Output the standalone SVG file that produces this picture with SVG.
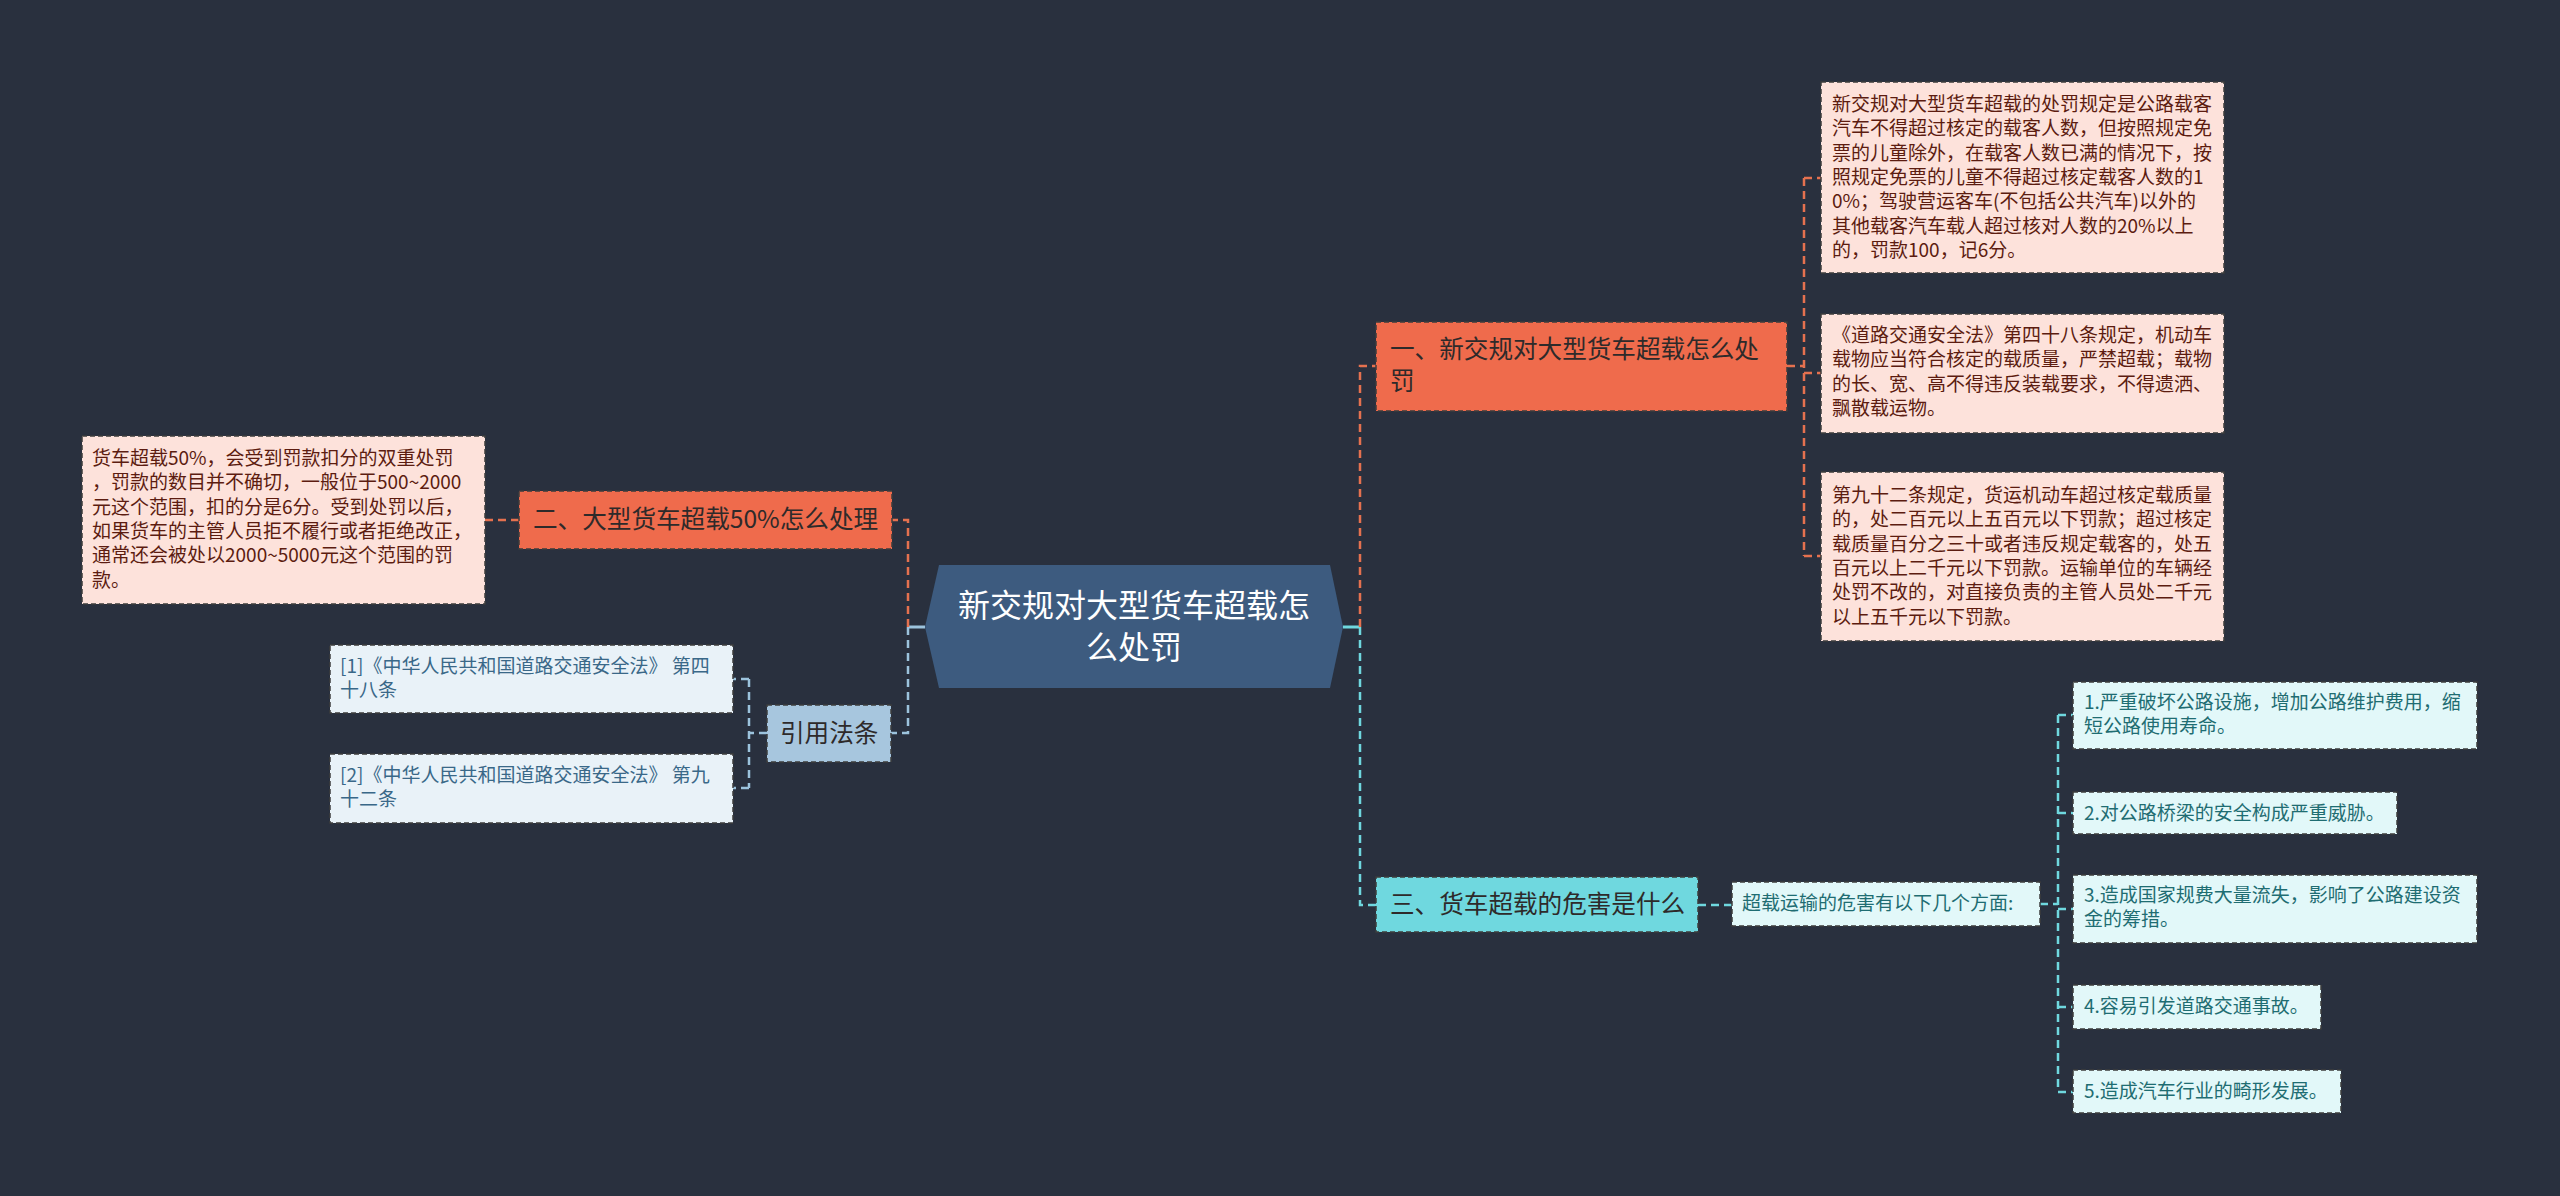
<svg xmlns="http://www.w3.org/2000/svg" width="2560" height="1196" viewBox="0 0 2560 1196">
<defs>
<style>
text{font-family:"Noto Sans CJK SC","Noto Sans",sans-serif;}
.box{stroke:#3c3c3c;stroke-width:1.5;stroke-dasharray:5 3;}
.orange{fill:#ef6b4c;}
.pink{fill:#fde2db;}
.cyan{fill:#6fd8df;}
.lcyan{fill:#e2f8f9;}
.lblue{fill:#e9f2f8;}
.steel{fill:#a7c6de;}
.t24{font-size:24.6px;fill:#2e2a2a;}
.tp{font-size:19px;fill:#5c1c10;}
.tc{font-size:19px;fill:#1f6d72;}
.tb{font-size:19px;fill:#3a6888;}
.co{fill:none;stroke:#e5714f;stroke-width:2.5;stroke-dasharray:8 5;}
.cc{fill:none;stroke:#6fd8df;stroke-width:2.5;stroke-dasharray:8 5;}
.cb{fill:none;stroke:#9cc3dd;stroke-width:2.5;stroke-dasharray:8 5;}
</style>
</defs>
<rect x="0" y="0" width="2560" height="1196" fill="#29303e"/>

<g id="connectors">
  <line x1="1343" y1="627" x2="1360" y2="627" stroke="#6fd8df" stroke-width="3"/>
  <line x1="908" y1="627" x2="925" y2="627" stroke="#9cc3dd" stroke-width="3"/>
  <path class="co" d="M1360 627 V366 H1376"/>
  <path class="cc" d="M1360 627 V905 H1376"/>
  <path class="co" d="M1787 366 H1804"/>
  <path class="co" d="M1804 178 V556"/>
  <path class="co" d="M1804 178 H1821 M1804 373 H1821 M1804 556 H1821"/>
  <path class="cc" d="M1698 905 H1732"/>
  <path class="cc" d="M2040 904 H2058"/>
  <path class="cc" d="M2058 715 V1092"/>
  <path class="cc" d="M2058 715 H2073 M2058 813 H2073 M2058 909 H2073 M2058 1007 H2073 M2058 1092 H2073"/>
  <path class="co" d="M908 627 V520 H892"/>
  <path class="cb" d="M908 627 V733 H891"/>
  <path class="co" d="M519 520 H485"/>
  <path class="cb" d="M767 733 H749"/>
  <path class="cb" d="M749 679 V788"/>
  <path class="cb" d="M749 679 H733 M749 788 H733"/>
</g>

<g id="center">
  <polygon points="925,627 939,565 1330,565 1343,627 1330,688 939,688" fill="#3d5b7f"/>
  <text x="1134" y="617" font-size="32" fill="#ffffff" text-anchor="middle">新交规对大型货车超载怎</text>
  <text x="1134" y="659" font-size="32" fill="#ffffff" text-anchor="middle">么处罚</text>
</g>

<g id="node1">
  <rect class="box orange" x="1376" y="322" width="411" height="89"/>
  <text class="t24" x="1390" y="358">一、新交规对大型货车超载怎么处</text>
  <text class="t24" x="1390" y="390">罚</text>
</g>

<g id="node1-c1">
  <rect class="box pink" x="1821" y="82" width="403" height="191"/>
  <text class="tp" x="1832" y="111">新交规对大型货车超载的处罚规定是公路载客</text>
  <text class="tp" x="1832" y="135.3">汽车不得超过核定的载客人数，但按照规定免</text>
  <text class="tp" x="1832" y="159.6">票的儿童除外，在载客人数已满的情况下，按</text>
  <text class="tp" x="1832" y="183.9">照规定免票的儿童不得超过核定载客人数的1</text>
  <text class="tp" x="1832" y="208.2">0%；驾驶营运客车(不包括公共汽车)以外的</text>
  <text class="tp" x="1832" y="232.5">其他载客汽车载人超过核对人数的20%以上</text>
  <text class="tp" x="1832" y="256.8">的，罚款100，记6分。</text>
</g>

<g id="node1-c2">
  <rect class="box pink" x="1821" y="314" width="403" height="119"/>
  <text class="tp" x="1832" y="342">《道路交通安全法》第四十八条规定，机动车</text>
  <text class="tp" x="1832" y="366.3">载物应当符合核定的载质量，严禁超载；载物</text>
  <text class="tp" x="1832" y="390.6">的长、宽、高不得违反装载要求，不得遗洒、</text>
  <text class="tp" x="1832" y="414.9">飘散载运物。</text>
</g>

<g id="node1-c3">
  <rect class="box pink" x="1821" y="472" width="403" height="169"/>
  <text class="tp" x="1832" y="502">第九十二条规定，货运机动车超过核定载质量</text>
  <text class="tp" x="1832" y="526.3">的，处二百元以上五百元以下罚款；超过核定</text>
  <text class="tp" x="1832" y="550.6">载质量百分之三十或者违反规定载客的，处五</text>
  <text class="tp" x="1832" y="574.9">百元以上二千元以下罚款。运输单位的车辆经</text>
  <text class="tp" x="1832" y="599.2">处罚不改的，对直接负责的主管人员处二千元</text>
  <text class="tp" x="1832" y="623.5">以上五千元以下罚款。</text>
</g>

<g id="node3">
  <rect class="box cyan" x="1376" y="877" width="322" height="55"/>
  <text class="t24" x="1390" y="913">三、货车超载的危害是什么</text>
</g>

<g id="node3-sub">
  <rect class="box lcyan" x="1732" y="882" width="308" height="44"/>
  <text class="tc" x="1742" y="910">超载运输的危害有以下几个方面:</text>
</g>

<g id="item1">
  <rect class="box lcyan" x="2073" y="682" width="404" height="67"/>
  <text class="tc" x="2084" y="709">1.严重破坏公路设施，增加公路维护费用，缩</text>
  <text class="tc" x="2084" y="733">短公路使用寿命。</text>
</g>
<g id="item2">
  <rect class="box lcyan" x="2073" y="792" width="324" height="42"/>
  <text class="tc" x="2084" y="820">2.对公路桥梁的安全构成严重威胁。</text>
</g>
<g id="item3">
  <rect class="box lcyan" x="2073" y="875" width="404" height="68"/>
  <text class="tc" x="2084" y="902">3.造成国家规费大量流失，影响了公路建设资</text>
  <text class="tc" x="2084" y="926">金的筹措。</text>
</g>
<g id="item4">
  <rect class="box lcyan" x="2073" y="985" width="248" height="44"/>
  <text class="tc" x="2084" y="1013">4.容易引发道路交通事故。</text>
</g>
<g id="item5">
  <rect class="box lcyan" x="2073" y="1070" width="268" height="43"/>
  <text class="tc" x="2084" y="1098">5.造成汽车行业的畸形发展。</text>
</g>

<g id="node2">
  <rect class="box orange" x="519" y="491" width="373" height="58"/>
  <text class="t24" x="533" y="528">二、大型货车超载50%怎么处理</text>
</g>

<g id="node2-c1">
  <rect class="box pink" x="82" y="436" width="403" height="168"/>
  <text class="tp" x="92" y="465">货车超载50%，会受到罚款扣分的双重处罚</text>
  <text class="tp" x="92" y="489.3">，罚款的数目并不确切，一般位于500~2000</text>
  <text class="tp" x="92" y="513.6">元这个范围，扣的分是6分。受到处罚以后，</text>
  <text class="tp" x="92" y="537.9">如果货车的主管人员拒不履行或者拒绝改正，</text>
  <text class="tp" x="92" y="562.2">通常还会被处以2000~5000元这个范围的罚</text>
  <text class="tp" x="92" y="586.5">款。</text>
</g>

<g id="refs">
  <rect class="box steel" x="767" y="705" width="124" height="57"/>
  <text class="t24" x="780" y="742" fill="#2a3848">引用法条</text>
</g>

<g id="ref1">
  <rect class="box lblue" x="330" y="645" width="403" height="68"/>
  <text class="tb" x="340" y="673">[1]《中华人民共和国道路交通安全法》 第四</text>
  <text class="tb" x="340" y="697">十八条</text>
</g>
<g id="ref2">
  <rect class="box lblue" x="330" y="754" width="403" height="69"/>
  <text class="tb" x="340" y="782">[2]《中华人民共和国道路交通安全法》 第九</text>
  <text class="tb" x="340" y="806">十二条</text>
</g>
</svg>
